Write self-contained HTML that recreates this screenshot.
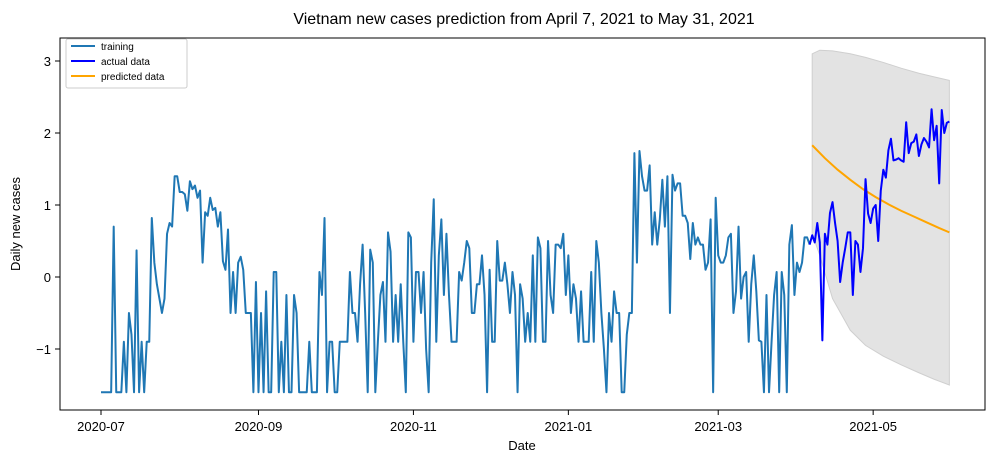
<!DOCTYPE html>
<html><head><meta charset="utf-8"><style>
body{margin:0;background:#fff;}
svg{display:block;font-family:"Liberation Sans","DejaVu Sans",sans-serif;}
</style></head><body>
<svg id="chart" width="999" height="463">
<text x="524" y="24" text-anchor="middle" font-size="16">Vietnam new cases prediction from April 7, 2021 to May 31, 2021</text>
<text x="522" y="450" text-anchor="middle" font-size="13">Date</text>
<text transform="translate(20,224) rotate(-90)" text-anchor="middle" font-size="13">Daily new cases</text>
<g id="band"></g><g id="lines"></g><g id="axes"></g>
<g>
<rect x="66" y="39" width="121" height="49" fill="#fff" stroke="#ccc" rx="2"/>
<g><line x1="71" y1="46" x2="95" y2="46" stroke="#1f77b4" stroke-width="2"/><text x="101" y="50" font-size="10">training</text></g>
<g><line x1="71" y1="61" x2="95" y2="61" stroke="#0000ff" stroke-width="2"/><text x="101" y="65" font-size="10">actual data</text></g>
<g><line x1="71" y1="76" x2="95" y2="76" stroke="#ffa500" stroke-width="2"/><text x="101" y="80" font-size="10">predicted data</text></g>
</g>
</svg>
<script>
const training=[-1.6,-1.6,-1.6,-1.6,-1.6,0.7,-1.6,-1.6,-1.6,-0.9,-1.6,-0.5,-0.8,-1.6,0.37,-1.6,-0.9,-1.6,-0.9,-0.9,0.82,0.2,-0.1,-0.3,-0.5,-0.3,0.6,0.75,0.7,1.4,1.4,1.18,1.18,1.15,0.92,1.33,1.22,1.27,1.1,1.2,0.2,0.9,0.85,1.1,0.93,0.96,0.7,0.9,0.22,0.1,0.66,-0.5,0.07,-0.5,0.2,0.28,0.1,-0.5,-0.5,-0.5,-1.6,-0.07,-1.6,
-0.5,-1.6,-0.2,-1.6,-1.6,0.07,0.07,-1.6,-0.9,-1.6,-0.25,-1.6,-1.6,-0.25,-0.5,-1.6,-1.6,-1.6,-1.6,-0.9,-1.6,-1.6,-1.6,0.07,-0.25,0.82,-1.6,-0.9,-0.9,-1.6,-1.6,-0.9,-0.9,-0.9,-0.9,0.07,-0.5,-0.5,-0.9,-0.1,0.45,-0.5,-1.6,0.38,0.2,-1.6,-0.9,-0.25,-0.07,-0.9,0.62,0.35,-0.9,-0.25,-0.9,-0.1,-0.9,-1.6,0.62,0.55,
-0.9,0.07,0.07,-0.5,0.07,-1.0,-1.6,0.2,1.08,-0.9,0.3,0.8,-0.25,0.6,-0.25,-0.9,-0.9,-0.9,0.07,-0.05,0.2,0.5,0.4,-0.5,-0.5,-0.1,-0.1,0.3,-0.25,-1.6,0.1,-0.9,-0.9,0.5,-0.05,-0.05,0.2,-0.1,-0.5,0.07,-0.25,-1.6,-0.1,-0.3,-0.9,-0.5,-0.9,0.3,-0.9,0.55,0.4,-0.9,-0.9,0.5,-0.25,-0.5,0.45,0.45,0.4,0.6,-0.25,
0.3,-0.5,-0.1,-0.3,-0.9,-0.2,-0.9,-0.9,-0.9,0.07,-0.9,0.5,0.2,-0.5,-1.0,-1.6,-0.5,-0.9,-0.2,-0.5,-0.5,-1.6,-1.6,-0.8,-0.5,-0.5,1.72,0.2,1.75,1.4,1.2,1.2,1.55,0.45,0.9,0.45,0.8,1.35,0.7,1.4,-0.5,1.42,1.2,1.3,1.3,0.85,0.85,0.75,0.25,0.75,0.45,0.55,0.45,0.45,0.1,0.2,0.8,-1.6,
1.1,0.3,0.2,0.2,0.3,0.55,0.6,-0.5,-0.2,0.7,-0.3,0.0,0.07,-0.9,-0.1,0.3,-0.2,-0.88,-0.9,-1.6,-0.25,-1.6,-0.9,-0.25,0.07,-1.6,0.07,-0.25,-1.6,0.45,0.72,-0.25,0.2,0.07,0.2,0.55,0.55,0.45];
const actual=[0.58,0.48,0.75,0.48,-0.88,0.6,0.45,0.89,1.04,0.75,0.5,-0.07,0.2,0.4,0.62,0.62,-0.25,0.5,0.45,0.07,0.4,1.36,0.88,0.75,0.95,1.0,0.5,1.2,1.49,1.38,1.76,1.92,1.62,1.63,1.65,1.62,1.6,2.15,1.72,1.86,1.88,1.98,1.68,1.84,1.93,1.88,1.8,2.33,1.9,2.1,1.3,2.32,2.0,2.14,2.16];
const predDays=[0,5,10,15,20,25,30,35,40,45,50,54];
const predicted=[1.83,1.65,1.49,1.35,1.22,1.11,1.01,0.92,0.84,0.76,0.68,0.62];
const bandDays=[0,3,8,15,21,28,35,42,48,54];
const upper=[3.1,3.15,3.14,3.1,3.05,2.98,2.9,2.83,2.78,2.73];
const lower=[0.6,0.3,-0.3,-0.74,-0.95,-1.1,-1.22,-1.33,-1.42,-1.5];
const yTicks=[-1,0,1,2,3];
const xTickLabels=["2020-07","2020-09","2020-11","2021-01","2021-03","2021-05"];
const xTickDays=[0,62,123,184,243,304];

const NS="http://www.w3.org/2000/svg";
const X=d=>101+2.54*d, Y=v=>277-72*v;
const START=280;
function mk(tag,attrs,parent){const e=document.createElementNS(NS,tag);for(const k in attrs)e.setAttribute(k,attrs[k]);parent.appendChild(e);return e;}
const band=document.getElementById('band'),lines=document.getElementById('lines'),axes=document.getElementById('axes');
let pts=bandDays.map((d,i)=>X(START+d)+','+Y(upper[i]));
for(let i=bandDays.length-1;i>=0;i--)pts.push(X(START+bandDays[i])+','+Y(lower[i]));
const bp=mk('polygon',{points:pts.join(' '),fill:'#e3e3e3',stroke:'#cfcfcf','stroke-width':1},band);


const tl=mk('polyline',{points:training.map((v,i)=>X(i)+','+Y(v)).join(' '),fill:'none',stroke:'#1f77b4','stroke-width':2,'stroke-linejoin':'round'},lines);


const pl=mk('polyline',{points:predicted.map((v,i)=>X(START+predDays[i])+','+Y(v)).join(' '),fill:'none',stroke:'#ffa500','stroke-width':2},lines);


const al=mk('polyline',{points:[X(START-1)+','+Y(training[training.length-1])].concat(actual.map((v,i)=>X(START+i)+','+Y(v))).join(' '),fill:'none',stroke:'#0000ff','stroke-width':2,'stroke-linejoin':'round'},lines);


const fr=mk('rect',{x:60,y:38,width:925,height:372,fill:'none',stroke:'#000','stroke-width':1},axes);


yTicks.forEach(v=>{
  const t=mk('line',{x1:55,x2:60,y1:Y(v),y2:Y(v),stroke:'#000'},axes);
  
  
  const l=mk('text',{x:51,y:Y(v)+5,'text-anchor':'end','font-size':13},axes);
  l.textContent=v<0?'\u2212'+Math.abs(v):String(v);
  
  
});
xTickDays.forEach((d,i)=>{
  const t=mk('line',{x1:X(d),x2:X(d),y1:410,y2:415,stroke:'#000'},axes);
  
  
  const l=mk('text',{x:X(d),y:431,'text-anchor':'middle','font-size':13},axes);
  l.textContent=xTickLabels[i];
  
  
});
</script>
</body></html>
